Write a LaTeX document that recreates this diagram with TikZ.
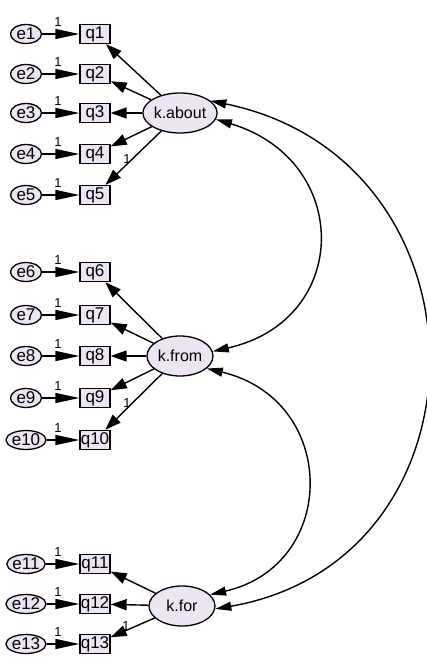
\documentclass[tikz,border=0pt]{standalone}
\usepackage{fontspec}
\setmainfont{Liberation Sans}
\usetikzlibrary{arrows.meta,shapes.geometric}
\definecolor{fillc}{HTML}{EDE4F4}
\begin{document}
\begin{tikzpicture}[x=1pt,y=-1pt,
  obs/.style={draw,fill=fillc,line width=1.3pt,minimum width=30pt,minimum height=19pt,inner sep=0pt,font=\fontsize{17}{17}\selectfont},
  err/.style={ellipse,draw,fill=fillc,line width=1.3pt,minimum width=31pt,minimum height=19pt,inner sep=0pt,font=\fontsize{17}{17}\selectfont},
  lat/.style={ellipse,draw,fill=fillc,line width=1.3pt,minimum width=66pt,minimum height=40pt,inner sep=0pt,font=\fontsize{16}{16}\selectfont},
  ein/.style={-{Triangle[length=24pt,width=10pt]},line width=1.4pt},
  load/.style={-{Triangle[length=16pt,width=11pt]},line width=1.4pt},
  cov/.style={{Triangle[length=16pt,width=9pt]}-{Triangle[length=16pt,width=9pt]},line width=1.4pt},
  one/.style={font=\fontsize{13}{13}\selectfont,inner sep=0pt}
]
\useasboundingbox (0,0) rectangle (427,659);
% latent factors
\node[lat] (kabout) at (180,113) {k.about};
\node[lat] (kfrom) at (180,356) {k.from};
\node[lat] (kfor) at (182,606) {k.for};
% indicators
\foreach \i/\y/\k in {1/34/kabout,2/74/kabout,3/113/kabout,4/154/kabout,5/195/kabout,
                      6/272/kfrom,7/315/kfrom,8/356/kfrom,9/398/kfrom,10/440/kfrom,
                      11/564/kfor,12/604/kfor,13/644/kfor}{
  \node[err] (e\i) at (26,\y) {e\i};
  \node[obs] (q\i) at (95,\y) {q\i};
  \draw[ein] (e\i) -- (q\i);
  \node[one] (one\i) at (58,\y-12) {1};
  \draw[load] (\k) -- (q\i);
}
\node[one] (lq4) at (127,159) {1};
\node[one] (lq9) at (127,403) {1};
\node[one] (lq13) at (126,626) {1};
% covariances
\draw[cov] (kabout.-10) .. controls (352,160) and (352,320) .. (kfrom.8);
\draw[cov] (kabout.22) .. controls (497,160) and (497,560) .. (kfor.-5);
\draw[cov] (kfrom.-25) .. controls (339,400) and (339,565) .. (kfor.22);
\end{tikzpicture}
\end{document}
